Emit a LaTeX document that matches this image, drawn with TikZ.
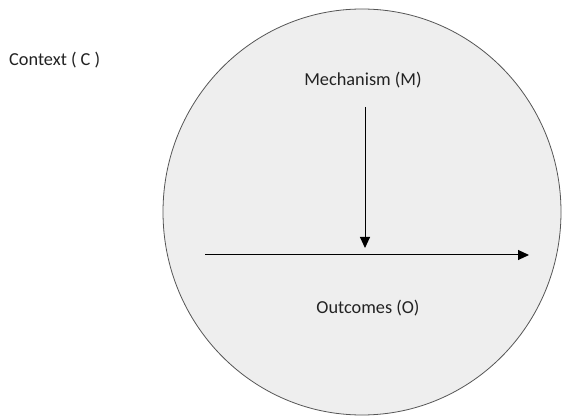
\documentclass[tikz,border=0pt]{standalone}
\usepackage{fontspec}
\setmainfont{Carlito}
\usetikzlibrary{arrows.meta}
\definecolor{circfill}{HTML}{EEEEEE}
\definecolor{circline}{HTML}{555555}
\definecolor{txt}{HTML}{222222}
\tikzset{
  lbl/.style={font=\fontsize{18.3}{21}\selectfont, text=txt, inner sep=0pt},
  conn/.style={line width=1pt, black, -{Triangle[length=11pt,width=10pt]}}
}
\begin{document}
\begin{tikzpicture}[x=1pt,y=-1pt]
\useasboundingbox[fill=white] (0,0) rectangle (562,419);
\draw[fill=circfill, draw=circline, line width=0.8pt] (362,212) ellipse [x radius=199, y radius=203];
\node[lbl, anchor=west] (C) at (9,60) {Context ( C )};
\node[lbl] (M) at (363,80) {Mechanism (M)};
\node[lbl] (O) at (368,308) {Outcomes (O)};
\coordinate (vs) at (365,107);
\coordinate (ve) at (365,248);
\coordinate (hs) at (205,255);
\coordinate (he) at (529,255);
\draw[conn] (vs) -- (ve);
\draw[conn] (hs) -- (he);
\end{tikzpicture}
\end{document}
